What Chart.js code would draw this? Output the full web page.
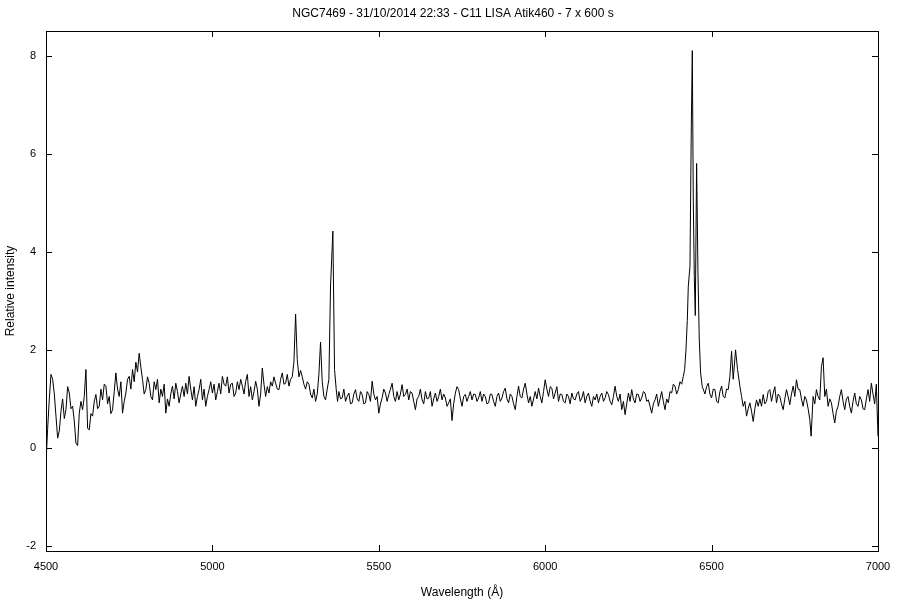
<!DOCTYPE html>
<html>
<head>
<meta charset="utf-8">
<script src="https://cdn.jsdelivr.net/npm/chart.js@4.4.0/dist/chart.umd.min.js"></script>
<style>
  html, body { margin: 0; padding: 0; background: #fff; }
  #wrap { width: 900px; height: 600px; }
</style>
</head>
<body>
<div id="wrap"><canvas id="spectrum"></canvas></div>
<script>
// Spectrum values (wavelength in Angstrom, relative intensity)
const wavelength = [
  4500, 4505, 4510, 4515, 4520, 4525, 4530, 4535, 4540, 4545,
  4550, 4555, 4560, 4565, 4570, 4575, 4580, 4585, 4590, 4595,
  4600, 4605, 4610, 4615, 4620, 4625, 4630, 4635, 4640, 4645,
  4650, 4655, 4660, 4665, 4670, 4675, 4680, 4685, 4690, 4695,
  4700, 4705, 4710, 4715, 4720, 4725, 4730, 4735, 4740, 4745,
  4750, 4755, 4760, 4765, 4770, 4775, 4780, 4785, 4790, 4795,
  4800, 4805, 4810, 4815, 4820, 4825, 4830, 4835, 4840, 4845,
  4850, 4855, 4860, 4865, 4870, 4875, 4880, 4885, 4890, 4895,
  4900, 4905, 4910, 4915, 4920, 4925, 4930, 4935, 4940, 4945,
  4950, 4955, 4960, 4965, 4970, 4975, 4980, 4985, 4990, 4995,
  5000, 5005, 5010, 5015, 5020, 5025, 5030, 5035, 5040, 5045,
  5050, 5055, 5060, 5065, 5070, 5075, 5080, 5085, 5090, 5095,
  5100, 5105, 5110, 5115, 5120, 5125, 5130, 5135, 5140, 5145,
  5150, 5155, 5160, 5165, 5170, 5175, 5180, 5185, 5190, 5195,
  5200, 5205, 5210, 5215, 5220, 5225, 5230, 5235, 5240, 5245,
  5250, 5255, 5260, 5265, 5270, 5275, 5280, 5285, 5290, 5295,
  5300, 5305, 5310, 5315, 5320, 5325, 5330, 5335, 5340, 5345,
  5350, 5355, 5362, 5367, 5372, 5376, 5380, 5385, 5390, 5395,
  5400, 5405, 5410, 5415, 5420, 5425, 5430, 5435, 5440, 5445,
  5450, 5455, 5460, 5465, 5470, 5475, 5480, 5485, 5490, 5495,
  5500, 5505, 5510, 5515, 5520, 5525, 5530, 5535, 5540, 5545,
  5550, 5555, 5560, 5565, 5570, 5575, 5580, 5585, 5590, 5595,
  5600, 5605, 5610, 5615, 5620, 5625, 5630, 5635, 5640, 5645,
  5650, 5655, 5660, 5665, 5670, 5675, 5680, 5685, 5690, 5695,
  5700, 5705, 5710, 5715, 5720, 5725, 5730, 5735, 5740, 5745,
  5750, 5755, 5760, 5765, 5770, 5775, 5780, 5785, 5790, 5795,
  5800, 5805, 5810, 5815, 5820, 5825, 5830, 5835, 5840, 5845,
  5850, 5855, 5860, 5865, 5870, 5875, 5880, 5885, 5890, 5895,
  5900, 5905, 5910, 5915, 5920, 5925, 5930, 5935, 5940, 5945,
  5950, 5955, 5960, 5965, 5970, 5975, 5980, 5985, 5990, 5995,
  6000, 6005, 6010, 6015, 6020, 6025, 6030, 6035, 6040, 6045,
  6050, 6055, 6060, 6065, 6070, 6075, 6080, 6085, 6090, 6095,
  6100, 6105, 6110, 6115, 6120, 6125, 6130, 6135, 6140, 6145,
  6150, 6155, 6160, 6165, 6170, 6175, 6180, 6185, 6190, 6195,
  6200, 6205, 6210, 6215, 6220, 6225, 6230, 6235, 6240, 6245,
  6250, 6255, 6260, 6265, 6270, 6275, 6280, 6285, 6290, 6295,
  6300, 6305, 6310, 6315, 6320, 6325, 6330, 6335, 6340, 6345,
  6350, 6355, 6360, 6365, 6370, 6375, 6380, 6385, 6390, 6395,
  6400, 6405, 6410, 6415, 6419, 6423, 6427, 6430, 6435, 6439,
  6442, 6445, 6448, 6451, 6455, 6459, 6463, 6467, 6472, 6480,
  6485, 6490, 6495, 6500, 6505, 6510, 6515, 6520, 6525, 6530,
  6535, 6540, 6545, 6550, 6555, 6560, 6565, 6572, 6578, 6585,
  6590, 6595, 6600, 6605, 6610, 6615, 6620, 6625, 6630, 6635,
  6640, 6645, 6650, 6655, 6660, 6665, 6670, 6675, 6680, 6685,
  6690, 6695, 6700, 6705, 6710, 6715, 6720, 6725, 6730, 6735,
  6740, 6745, 6750, 6755, 6760, 6765, 6770, 6775, 6780, 6785,
  6790, 6795, 6799, 6805, 6810, 6815, 6820, 6825, 6830, 6835,
  6840, 6845, 6850, 6855, 6860, 6865, 6870, 6875, 6880, 6885,
  6890, 6895, 6900, 6905, 6910, 6915, 6920, 6925, 6930, 6935,
  6940, 6945, 6950, 6955, 6960, 6965, 6970, 6975, 6980, 6985,
  6990, 6995, 7000
];
const intensity = [
  -0.30, 0.40, 1.00, 1.50, 1.40, 1.10, 0.65, 0.20, 0.35, 0.75,
  1.00, 0.60, 0.78, 1.25, 1.12, 0.80, 0.85, 0.55, 0.10, 0.05,
  0.71, 0.95, 0.78, 1.05, 1.60, 0.40, 0.37, 0.70, 0.65, 0.95,
  1.09, 0.80, 0.85, 1.20, 0.98, 1.30, 1.26, 0.90, 1.05, 0.70,
  0.78, 1.15, 1.53, 1.20, 1.05, 1.35, 0.71, 0.95, 1.12, 1.40,
  1.46, 1.20, 1.60, 1.35, 1.75, 1.55, 1.93, 1.65, 1.40, 1.10,
  1.19, 1.45, 1.32, 1.05, 0.98, 1.35, 1.19, 1.40, 0.92, 1.20,
  1.05, 1.30, 0.71, 1.00, 0.85, 1.10, 1.26, 1.00, 1.32, 1.15,
  0.92, 1.10, 1.26, 1.05, 1.32, 1.10, 1.46, 1.20, 0.98, 1.25,
  0.85, 1.05, 1.19, 1.40, 0.98, 1.20, 0.85, 1.05, 1.19, 1.35,
  1.12, 1.30, 0.98, 1.15, 1.32, 1.10, 1.46, 1.30, 1.26, 1.45,
  1.12, 1.30, 1.32, 1.05, 1.12, 1.35, 1.19, 1.40, 1.26, 1.10,
  1.36, 1.50, 1.05, 1.25, 0.98, 1.15, 1.36, 1.20, 0.85, 1.10,
  1.63, 1.30, 1.05, 1.25, 1.12, 1.35, 1.26, 1.45, 1.32, 1.20,
  1.19, 1.40, 1.53, 1.30, 1.32, 1.50, 1.26, 1.40, 1.45, 1.75,
  2.73, 1.80, 1.45, 1.58, 1.45, 1.30, 1.20, 1.35, 1.30, 1.10,
  1.02, 1.20, 0.95, 1.10, 1.50, 2.16, 1.35, 1.05, 0.98, 1.20,
  1.40, 3.30, 4.42, 1.60, 1.20, 0.95, 1.15, 1.00, 1.02, 1.20,
  0.95, 1.05, 1.12, 0.90, 0.92, 1.10, 1.19, 1.00, 0.95, 1.15,
  1.09, 0.90, 0.92, 1.15, 1.09, 0.95, 1.36, 1.10, 0.98, 1.05,
  0.71, 0.90, 1.02, 1.20, 1.12, 0.95, 1.09, 1.20, 1.32, 1.05,
  0.95, 1.15, 0.98, 1.10, 1.29, 1.05, 1.09, 1.20, 0.98, 1.15,
  1.12, 0.95, 0.78, 1.00, 1.05, 1.20, 0.98, 0.90, 1.15, 1.00,
  1.02, 1.15, 0.85, 1.00, 1.12, 0.95, 1.05, 1.20, 0.98, 1.10,
  1.02, 0.85, 0.92, 1.00, 0.56, 0.90, 1.12, 1.25, 1.19, 1.00,
  0.85, 1.05, 1.09, 0.95, 1.05, 1.15, 0.98, 1.10, 1.09, 0.95,
  1.02, 1.15, 0.95, 1.10, 1.05, 0.90, 0.92, 1.10, 1.09, 0.95,
  0.85, 1.05, 1.12, 0.95, 1.02, 1.15, 1.22, 1.00, 0.92, 1.10,
  1.05, 0.90, 0.78, 1.05, 1.26, 1.05, 1.02, 1.20, 1.32, 1.10,
  0.92, 1.05, 0.85, 1.00, 1.15, 1.00, 1.22, 1.05, 0.92, 1.15,
  1.39, 1.20, 1.05, 1.25, 1.22, 1.00, 1.12, 1.25, 0.95, 1.10,
  1.09, 0.95, 0.92, 1.10, 1.05, 0.90, 1.12, 1.00, 0.98, 1.10,
  1.15, 0.95, 1.02, 1.15, 0.92, 1.05, 1.12, 0.95, 0.85, 1.05,
  0.98, 1.10, 0.92, 1.05, 1.12, 0.95, 1.02, 1.15, 1.09, 0.95,
  0.88, 1.05, 1.26, 1.05, 0.95, 1.10, 0.78, 0.95, 0.68, 0.90,
  1.12, 0.95, 1.19, 1.00, 0.92, 1.10, 1.09, 0.95, 1.02, 1.15,
  1.12, 0.95, 0.98, 0.85, 0.71, 0.90, 0.98, 1.10, 0.85, 1.00,
  1.15, 0.95, 0.78, 1.00, 0.92, 1.15, 1.12, 1.30, 1.26, 1.10,
  1.19, 1.35, 1.30, 1.46, 1.60, 2.00, 2.60, 3.30, 3.70, 6.54,
  8.10, 5.05, 3.50, 2.70, 5.80, 3.57, 2.20, 1.53, 1.25, 1.10,
  1.25, 1.32, 1.10, 1.02, 1.20, 1.19, 0.95, 0.92, 1.15, 1.26,
  1.05, 1.02, 1.20, 1.19, 1.46, 1.97, 1.40, 2.00, 1.60, 1.26,
  1.05, 0.85, 0.95, 0.65, 0.80, 0.92, 0.75, 0.54, 0.80, 0.98,
  0.85, 1.00, 0.85, 1.09, 0.90, 0.95, 1.15, 1.19, 0.95, 1.12,
  1.25, 0.92, 1.10, 1.05, 0.90, 0.78, 1.00, 1.19, 1.05, 0.88,
  1.10, 1.26, 1.05, 1.39, 1.20, 1.19, 1.00, 0.85, 1.05, 0.98,
  0.80, 0.58, 0.24, 1.05, 0.90, 1.19, 1.05, 0.98, 1.66, 1.84,
  1.05, 1.20, 0.85, 1.00, 0.92, 0.70, 0.51, 0.75, 0.85, 1.05,
  1.19, 0.95, 0.78, 1.00, 1.05, 0.85, 0.71, 0.95, 1.12, 0.90,
  0.85, 1.05, 0.98, 0.80, 0.78, 1.00, 1.19, 0.95, 1.32, 1.10,
  0.90, 1.30, 0.24
];
const xTicks = [4500, 5000, 5500, 6000, 6500, 7000];
const yTicks = [-2, 0, 2, 4, 6, 8];
const chartTitle = 'NGC7469 - 31/10/2014 22:33 - C11 LISA Atik460 - 7 x 600 s';
const xLabel = 'Wavelength (Å)';
const yLabel = 'Relative intensity';

const font = 'Arial, "Liberation Sans", sans-serif';

// gnuplot style: title, full frame and ticks pointing inwards on all four sides
const framePlugin = {
    id: 'frame',
    afterDatasetsDraw(chart) {
        const { ctx, chartArea: a, scales: { x, y } } = chart;
        const len = 6;
        ctx.save();
        ctx.strokeStyle = '#000';
        ctx.lineWidth = 1;
        ctx.strokeRect(Math.round(a.left) + 0.5, Math.round(a.top) + 0.5,
            Math.round(a.right - a.left), Math.round(a.bottom - a.top));
        ctx.beginPath();
        xTicks.forEach(v => {
            const px = Math.round(x.getPixelForValue(v)) + 0.5;
            ctx.moveTo(px, a.bottom); ctx.lineTo(px, a.bottom - len);
            ctx.moveTo(px, a.top); ctx.lineTo(px, a.top + len);
        });
        yTicks.forEach(v => {
            const py = Math.round(y.getPixelForValue(v)) + 0.5;
            ctx.moveTo(a.left, py); ctx.lineTo(a.left + len, py);
            ctx.moveTo(a.right, py); ctx.lineTo(a.right - len, py);
        });
        ctx.stroke();

        ctx.fillStyle = '#000';
        ctx.font = '12px ' + font;
        ctx.textAlign = 'center';
        ctx.textBaseline = 'middle';
        ctx.fillText(chartTitle, 453, 14);
        ctx.restore();
    }
};

const ctx = document.getElementById('spectrum').getContext('2d');
new Chart(ctx, {
    type: 'line',
    data: {
        datasets: [{
            data: wavelength.map((w, i) => ({ x: w, y: intensity[i] })),
            borderColor: '#000',
            borderWidth: 1,
            pointRadius: 0,
            tension: 0,
            fill: false
        }]
    },
    options: {
        responsive: true,
        maintainAspectRatio: false,
        animation: false,
        layout: { padding: { left: 0, right: 22, top: 31, bottom: 0 } },
        plugins: {
            legend: { display: false },
            tooltip: { enabled: false },
            title: { display: false }
        },
        scales: {
            x: {
                type: 'linear',
                min: 4500,
                max: 7000,
                afterBuildTicks: s => { s.ticks = xTicks.map(v => ({ value: v })); },
                afterFit: s => { s.height = 49; },
                grid: { display: true, drawOnChartArea: false, drawTicks: false },
                border: { display: false },
                ticks: {
                    color: '#000', padding: 9, maxRotation: 0,
                    font: { family: font, size: 11 },
                    callback: v => String(v)
                },
                title: { display: true, text: xLabel, color: '#000', padding: { top: 5, bottom: 0 }, font: { family: font, size: 12 } }
            },
            y: {
                min: -2.1,
                max: 8.5,
                afterBuildTicks: s => { s.ticks = yTicks.map(v => ({ value: v })); },
                afterFit: s => { s.width = 46; },
                grid: { display: true, drawOnChartArea: false, drawTicks: false },
                border: { display: false },
                ticks: { color: '#000', padding: 10, font: { family: font, size: 11 }, callback: v => String(v) },
                title: { display: true, text: yLabel, color: '#000', padding: { top: 3, bottom: 0 }, font: { family: font, size: 12 } }
            }
        }
    },
    plugins: [framePlugin]
});
</script>
</body>
</html>
